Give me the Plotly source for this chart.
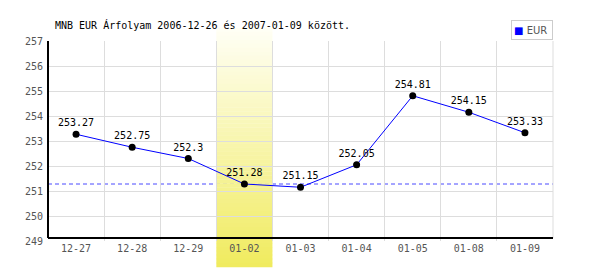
import plotly.graph_objects as go

categories = ["12-27", "12-28", "12-29", "01-02", "01-03", "01-04", "01-05", "01-08", "01-09"]
eur_values = [253.27, 252.75, 252.3, 251.28, 251.15, 252.05, 254.81, 254.15, 253.33]
highlight_category = "01-02"
title_text = "MNB EUR Árfolyam 2006-12-26 és 2007-01-09 között."
series_name = "EUR"
y_ticks = [249, 250, 251, 252, 253, 254, 255, 256, 257]

MONO = "DejaVu Sans Mono"
xs = list(range(len(categories)))
hi = categories.index(highlight_category)
ref_value = eur_values[hi]

fig = go.Figure()

fig.add_trace(go.Scatter(
    x=xs, y=eur_values,
    mode="lines+markers+text",
    name=series_name,
    line=dict(color="#0000ff", width=1),
    marker=dict(color="black", size=7),
    text=[str(v) for v in eur_values],
    textposition="top center",
    textfont=dict(family=MONO, size=10, color="black"),
    showlegend=False,
    cliponaxis=False,
))

shapes = []
# dashed reference line
shapes.append(dict(type="line", xref="paper", yref="y", x0=0, x1=1,
                   y0=ref_value, y1=ref_value,
                   line=dict(color="#4a4aff", width=1, dash="4px,3px"), layer="below"))
# gradient highlight band
N = 60
top, bot = 1.065, -0.13
c_top = (255, 255, 246)
c_bot = (240, 235, 94)
for i in range(N):
    f = (i + 0.5) / N
    r = round(c_top[0] + (c_bot[0] - c_top[0]) * f)
    g = round(c_top[1] + (c_bot[1] - c_top[1]) * f)
    b = round(c_top[2] + (c_bot[2] - c_top[2]) * f)
    y1 = top - (top - bot) * i / N
    y0 = top - (top - bot) * (i + 1) / N
    shapes.append(dict(type="rect", xref="x", yref="paper",
                       x0=hi - 0.5, x1=hi + 0.5, y0=y0 - 0.001, y1=y1 + 0.001,
                       fillcolor=f"rgb({r},{g},{b})", line=dict(width=0),
                       layer="between"))
# black axes
shapes.append(dict(type="line", xref="paper", yref="paper", x0=0, x1=1,
                   y0=0.015, y1=0.015, line=dict(color="black", width=2), layer="above"))
shapes.append(dict(type="line", xref="paper", yref="paper", x0=0, x1=0,
                   y0=0.015, y1=1, line=dict(color="black", width=2), layer="above"))
# right border
shapes.append(dict(type="line", xref="paper", yref="paper", x0=1, x1=1,
                   y0=0.015, y1=1, line=dict(color="#dddddd", width=1), layer="below"))

annotations = [
    dict(text=title_text, xref="paper", yref="paper", x=0.01, y=1.08,
         xanchor="left", yanchor="middle", showarrow=False,
         font=dict(family=MONO, size=10, color="black")),
    dict(text=f"<span style='color:#0000ff'>■</span> {series_name}",
         xref="paper", yref="paper", x=1, y=1.105, xanchor="right", yanchor="top",
         showarrow=False, align="left", width=36, height=14, borderpad=2,
         bordercolor="#cccccc", borderwidth=1, bgcolor="white",
         font=dict(family="DejaVu Sans", size=10, color="#555555")),
]

fig.update_layout(
    width=600, height=270,
    margin=dict(l=48, r=47, t=41, b=29),
    paper_bgcolor="white", plot_bgcolor="white",
    shapes=shapes,
    showlegend=False,
    annotations=annotations,
)
fig.update_xaxes(
    range=[-0.5, len(categories) - 0.5],
    tickvals=xs, ticktext=categories,
    showgrid=False, zeroline=False, showline=False, ticks="",
    tickfont=dict(family=MONO, size=10, color="#555555"),
    minor=dict(tickvals=[i + 0.5 for i in xs], showgrid=True, gridcolor="#dddddd", gridwidth=1),
)
fig.update_yaxes(
    range=[y_ticks[0], y_ticks[-1]], tickvals=y_ticks,
    showgrid=True, gridcolor="#dddddd", gridwidth=1,
    zeroline=False, showline=False, ticks="",
    ticklabelstandoff=4,
    tickfont=dict(family=MONO, size=10, color="#555555"),
)

fig.write_html("out.html")
